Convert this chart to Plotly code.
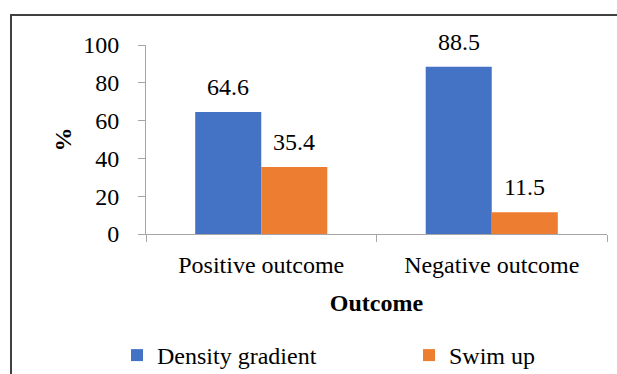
import plotly.graph_objects as go

# Outcome categories and percentage for each preparation method
categories = ["Positive outcome", "Negative outcome"]
density_gradient = [64.6, 88.5]
swim_up = [35.4, 11.5]
y_ticks = [0, 20, 40, 60, 80, 100]

BLUE = "#4472C4"
ORANGE = "#ED7D31"
AXIS_GREY = "#A6A6A6"
FONT = "Times New Roman, Liberation Serif, serif"
FS = 24

W, H = 617, 374
ML, MR, MT, MB = 146, 10, 45, 140
PW = W - ML - MR
PH = H - MT - MB


def px_x(p):
    return (p - ML) / PW


def px_y(p):
    return 1 - (p - MT) / PH


fig = go.Figure()
fig.add_trace(go.Bar(name="Density gradient", x=categories, y=density_gradient,
                     marker=dict(color=BLUE, line=dict(width=0)), legend="legend"))
fig.add_trace(go.Bar(name="Swim up", x=categories, y=swim_up,
                     marker=dict(color=ORANGE, line=dict(width=0)), legend="legend2"))

# value labels floating above each bar
annotations = []
for i, cat in enumerate(categories):
    for vals, off in ((density_gradient, -0.143), (swim_up, 0.143)):
        annotations.append(dict(
            x=i + off, y=vals[i], xref="x", yref="y", text=f"{vals[i]:.1f}",
            showarrow=False, yanchor="bottom", yshift=10,
            font=dict(family=FONT, size=FS, color="#000000")))

# outer frame: top and left edges of the chart area
shapes = [
    dict(type="line", xref="paper", yref="paper", x0=px_x(10.5), x1=px_x(620),
         y0=px_y(15), y1=px_y(15), line=dict(color="#404040", width=2)),
    dict(type="line", xref="paper", yref="paper", x0=px_x(11), x1=px_x(11),
         y0=px_y(14), y1=px_y(380), line=dict(color="#404040", width=2)),
]

legend_common = dict(orientation="h", xanchor="left", yanchor="top",
                     y=px_y(333), font=dict(family=FONT, size=FS),
                     itemwidth=30, bgcolor="rgba(0,0,0,0)")

fig.update_layout(
    width=W, height=H,
    margin=dict(l=ML, r=MR, t=MT, b=MB, autoexpand=False),
    paper_bgcolor="white", plot_bgcolor="white",
    barmode="group", bargap=0.427, bargroupgap=0,
    font=dict(family=FONT, size=FS, color="#000000"),
    showlegend=True,
    legend=dict(x=px_x(117), **legend_common),
    legend2=dict(x=px_x(409), **legend_common),
    annotations=annotations,
    shapes=shapes,
    xaxis=dict(
        type="category", tickson="boundaries", ticks="outside", ticklen=7,
        tickcolor=AXIS_GREY, showline=True, linecolor=AXIS_GREY, linewidth=1,
        showgrid=False, zeroline=False, automargin=False,
        tickfont=dict(family=FONT, size=FS), ticklabelstandoff=9,
        title=dict(text="<b>Outcome</b>", font=dict(family=FONT, size=FS),
                   standoff=17),
    ),
    yaxis=dict(
        range=[0, 100], tickvals=y_ticks, ticks="outside", ticklen=7,
        tickcolor=AXIS_GREY, showline=True, linecolor=AXIS_GREY, linewidth=1,
        showgrid=False, zeroline=False, automargin=False,
        tickfont=dict(family=FONT, size=FS), ticklabelstandoff=14,
        title=dict(text="<b>%</b>", font=dict(family=FONT, size=FS),
                   standoff=4),
    ),
)

fig.write_html("out.html")
